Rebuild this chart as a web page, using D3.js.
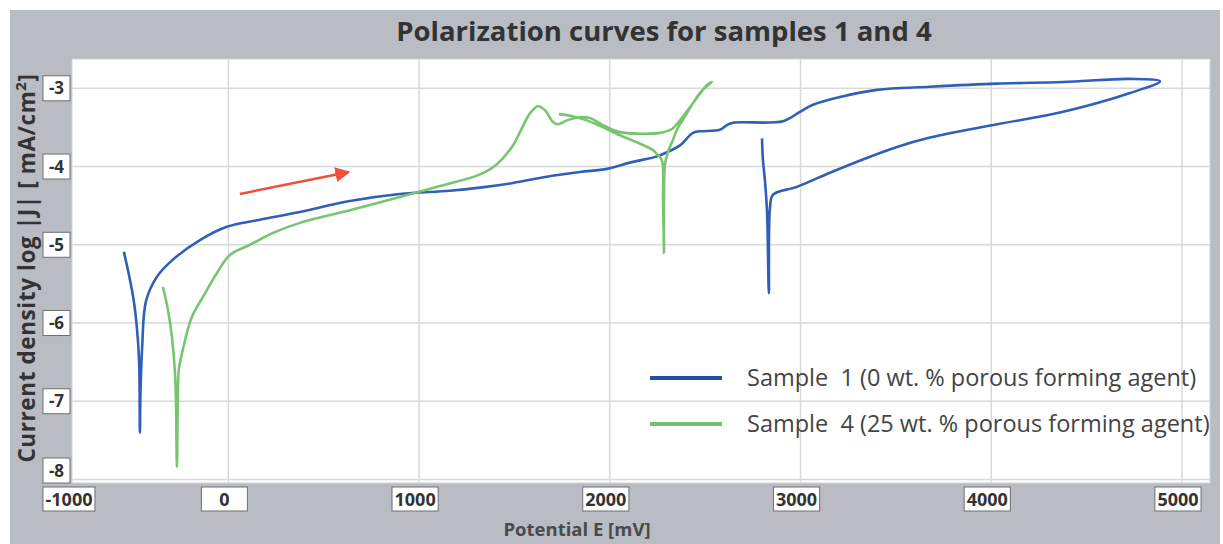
<!DOCTYPE html>
<html>
<head>
<meta charset="utf-8">
<script src="https://cdn.jsdelivr.net/npm/d3@7"></script>
<style>
  body { margin: 0; background: #ffffff; }
  text { font-family: 'Open Sans', 'DejaVu Sans', sans-serif; }
</style>
</head>
<body>
<svg id="canvas" width="1223" height="544"></svg>
<script>
// sample 1 (0 wt. %), one continuous sweep: forward, then reverse
let sample1E = [-548, -520, -497, -480, -468, -464, -461, -452, -432, -375, -291, -149, -8, 165, 375, 637, 899, 1161, 1319, 1492, 1670, 1843, 1985, 2105, 2247, 2315, 2368, 2436, 2472, 2577, 2614, 2646, 2908, 2997, 3065, 3207, 3401, 3679, 4031, 4377, 4728, 4885, 4728, 4377, 4031, 3679, 3506, 3327, 3154, 2981, 2856, 2840, 2834, 2824, 2813, 2803, 2798]
let sample1J = [-5.09, -5.40, -5.70, -6.05, -6.50, -7.40, -6.90, -6.30, -5.72, -5.41, -5.19, -4.94, -4.77, -4.68, -4.58, -4.44, -4.35, -4.31, -4.27, -4.21, -4.13, -4.07, -4.03, -3.95, -3.87, -3.80, -3.73, -3.57, -3.55, -3.53, -3.47, -3.44, -3.42, -3.30, -3.21, -3.11, -3.02, -2.98, -2.94, -2.92, -2.88, -2.91, -3.06, -3.30, -3.46, -3.63, -3.75, -3.91, -4.08, -4.26, -4.36, -4.52, -5.62, -4.56, -4.17, -3.92, -3.64]

// sample 4 (25 wt. %)
let sample4E = [-343, -317, -296, -281, -275, -270, -265, -260, -239, -191, -134, -60, 8, 113, 233, 375, 637, 899, 1109, 1319, 1408, 1492, 1529, 1581, 1623, 1660, 1702, 1728, 1775, 1843, 1896, 1964, 2053, 2158, 2263, 2326, 2368, 2436, 2509, 2535, 2472, 2404, 2352, 2326, 2305, 2289, 2284, 2284, 2279, 2273, 2247, 2226, 2142, 2053, 1948, 1880, 1791, 1733]
let sample4J = [-5.54, -5.83, -6.18, -6.60, -6.98, -7.84, -6.98, -6.60, -6.34, -5.92, -5.67, -5.36, -5.13, -5.00, -4.85, -4.72, -4.56, -4.39, -4.25, -4.10, -3.97, -3.73, -3.56, -3.32, -3.23, -3.28, -3.43, -3.46, -3.41, -3.37, -3.38, -3.47, -3.56, -3.58, -3.57, -3.52, -3.41, -3.19, -2.96, -2.92, -3.06, -3.32, -3.53, -3.69, -3.81, -3.98, -4.43, -5.10, -4.43, -3.92, -3.84, -3.79, -3.69, -3.60, -3.48, -3.41, -3.35, -3.33]

let xTicks = [-1000, 0, 1000, 2000, 3000, 4000, 5000]
let yTicks = [-3, -4, -5, -6, -7, -8]

let seriesNames = ['Sample  1 (0 wt. % porous forming agent)', 'Sample  4 (25 wt. % porous forming agent)']
let seriesColors = ['#2f5fb6', '#78c56f']
let legendColors = ['#1f4fa6', '#6cc070']

// red arrow: [E, logJ] from -> to
let arrowFrom = [60, -4.35]
let arrowTo = [632, -4.07]

let canvas = d3.select('#canvas')

let plot = { left: 72, right: 1210, top: 59, bottom: 483 }

let xScale = d3.scaleLinear().domain([-820, 5147]).range([plot.left, plot.right])
let yScale = d3.scaleLinear().domain([-3, -8]).range([88.3, 479.5])

// gray frame
canvas.append('rect')
    .attr('x', 10).attr('y', 10)
    .attr('width', 1210).attr('height', 534)
    .attr('fill', '#b9bcc3')

canvas.append('rect')
    .attr('x', plot.left).attr('y', plot.top)
    .attr('width', plot.right - plot.left).attr('height', plot.bottom - plot.top)
    .attr('fill', '#ffffff')
    .attr('stroke', '#d0d2d6')

// grid
canvas.append('g')
    .selectAll('line')
    .data(xTicks.filter((t) => xScale(t) > plot.left))
    .enter()
    .append('line')
    .attr('x1', (t) => xScale(t)).attr('x2', (t) => xScale(t))
    .attr('y1', plot.top).attr('y2', plot.bottom)
    .attr('stroke', '#d9d9d9').attr('stroke-width', 1.5)

canvas.append('g')
    .selectAll('line')
    .data(yTicks)
    .enter()
    .append('line')
    .attr('x1', plot.left).attr('x2', plot.right)
    .attr('y1', (t) => yScale(t)).attr('y2', (t) => yScale(t))
    .attr('stroke', '#d9d9d9').attr('stroke-width', 1.5)

// y tick boxes
let yLab = canvas.append('g')
    .selectAll('g')
    .data(yTicks)
    .enter()
    .append('g')
    .attr('transform', (t) => {
        let cy = Math.min(yScale(t), plot.bottom - 12.5)
        return 'translate(43,' + (cy - 12.5) + ')'
    })
yLab.append('rect')
    .attr('width', 27).attr('height', 25)
    .attr('fill', '#ffffff').attr('stroke', '#6d6f73')
yLab.append('text')
    .attr('x', 13.5).attr('y', 18.5)
    .attr('text-anchor', 'middle')
    .attr('font-size', 17).attr('font-weight', 'bold')
    .attr('fill', '#333333')
    .text((t) => t)

// x tick boxes
let xLab = canvas.append('g')
    .selectAll('g')
    .data(xTicks)
    .enter()
    .append('g')
xLab.append('text')
    .attr('text-anchor', 'middle')
    .attr('font-size', 18).attr('font-weight', 'bold')
    .attr('fill', '#333333')
    .text((t) => t)
xLab.each(function (t) {
    let g = d3.select(this)
    let w = Math.max(46, g.select('text').node().getComputedTextLength() + 5)
    let left = Math.max(43, xScale(t) - 4 - w / 2)
    g.attr('transform', 'translate(' + left + ',487)')
    g.insert('rect', 'text')
        .attr('width', w).attr('height', 24)
        .attr('fill', '#ffffff').attr('stroke', '#6d6f73')
    g.select('text').attr('x', w / 2).attr('y', 19)
})

// curves
let line = d3.line()
    .x((d) => xScale(d[0]))
    .y((d) => yScale(d[1]))
    .curve(d3.curveCatmullRom.alpha(0.5))

let series = [
    d3.zip(sample1E, sample1J),
    d3.zip(sample4E, sample4J)
]

canvas.append('g')
    .selectAll('path')
    .data(series)
    .enter()
    .append('path')
    .attr('d', line)
    .attr('fill', 'none')
    .attr('stroke', (d, i) => seriesColors[i])
    .attr('stroke-width', 2.6)
    .attr('stroke-linejoin', 'round')

// arrow
canvas.append('defs').append('marker')
    .attr('id', 'head')
    .attr('viewBox', '0 0 10 10')
    .attr('refX', 9).attr('refY', 5)
    .attr('markerWidth', 6).attr('markerHeight', 6)
    .attr('markerUnits', 'strokeWidth')
    .attr('orient', 'auto')
    .append('path')
    .attr('d', 'M0,0 L10,5 L0,10 Z')
    .attr('fill', '#f04e3a')

canvas.append('line')
    .attr('x1', xScale(arrowFrom[0])).attr('y1', yScale(arrowFrom[1]))
    .attr('x2', xScale(arrowTo[0])).attr('y2', yScale(arrowTo[1]))
    .attr('stroke', '#f04e3a').attr('stroke-width', 2.5)
    .attr('marker-end', 'url(#head)')

// legend
let legend = canvas.append('g')
    .selectAll('g')
    .data(seriesNames)
    .enter()
    .append('g')
    .attr('transform', (d, i) => 'translate(650,' + (378 + i * 46) + ')')
legend.append('line')
    .attr('x1', 0).attr('x2', 72)
    .attr('stroke', (d, i) => legendColors[i])
    .attr('stroke-width', 4)
legend.append('text')
    .attr('x', 97).attr('y', 8)
    .attr('font-size', 23.5)
    .attr('fill', '#444444')
    .style('white-space', 'pre')
    .text((d) => d)

// titles
canvas.append('text')
    .attr('x', 664).attr('y', 41)
    .attr('text-anchor', 'middle')
    .attr('font-size', 27.5).attr('font-weight', 'bold')
    .attr('fill', '#333333')
    .text('Polarization curves for samples 1 and 4')

canvas.append('text')
    .attr('x', 577).attr('y', 536)
    .attr('text-anchor', 'middle')
    .attr('font-size', 18.5).attr('font-weight', 'bold')
    .attr('fill', '#4a4a4a')
    .text('Potential E [mV]')

let yTitle = canvas.append('text')
    .attr('transform', 'translate(35,268) rotate(-90)')
    .attr('text-anchor', 'middle')
    .attr('font-size', 22.5).attr('font-weight', 'bold')
    .attr('fill', '#333333')
    .attr('letter-spacing', 0.6)
yTitle.append('tspan').text('Current density log |J| [ mA/cm')
yTitle.append('tspan').attr('dy', -9).attr('font-size', 15).text('2')
yTitle.append('tspan').attr('dy', 9).text(']')
</script>
</body>
</html>
